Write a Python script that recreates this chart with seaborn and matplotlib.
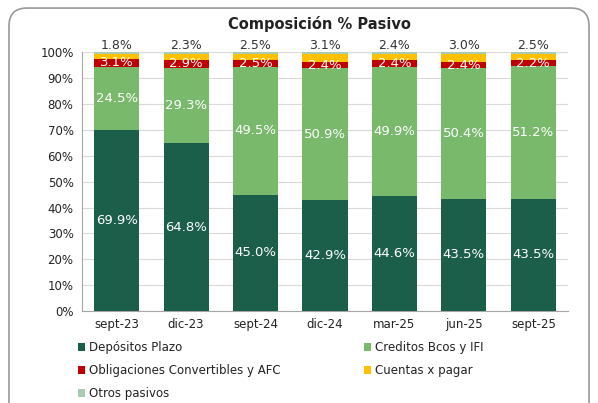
import matplotlib.pyplot as plt
import seaborn as sns
import pandas as pd
import numpy as np
from matplotlib.patches import FancyBboxPatch, Patch

periodos = ['sept-23', 'dic-23', 'sept-24', 'dic-24', 'mar-25', 'jun-25', 'sept-25']
depositos = [69.9, 64.8, 45.0, 42.9, 44.6, 43.5, 43.5]
creditos = [24.5, 29.3, 49.5, 50.9, 49.9, 50.4, 51.2]
obligaciones = [3.1, 2.9, 2.5, 2.4, 2.4, 2.4, 2.2]
cuentas = [1.8, 2.3, 2.5, 3.1, 2.4, 3.0, 2.5]
otros = [0.7, 0.7, 0.5, 0.7, 0.7, 0.7, 0.6]

series = ['Depósitos Plazo', 'Creditos Bcos y IFI', 'Obligaciones Convertibles y AFC',
          'Cuentas x pagar', 'Otros pasivos']
colors = ['#1b5e4a', '#78b96c', '#c00000', '#ffc000', '#a8cbb2']

df = pd.DataFrame({'periodo': periodos, series[0]: depositos, series[1]: creditos,
                   series[2]: obligaciones, series[3]: cuentas, series[4]: otros})
df = df.set_index('periodo')
cum = df.cumsum(axis=1)

sns.set_style('white')
plt.rcParams['font.family'] = ['DejaVu Sans']

fig = plt.figure(figsize=(5.98, 4.03), dpi=100)
ax = fig.add_axes([0.137, 0.228, 0.813, 0.642])

# stacked bars: draw cumulative heights, tallest first
for name, col in reversed(list(zip(series, colors))):
    sns.barplot(x=cum.index, y=cum[name].values, color=col, width=0.65, saturation=1,
                ax=ax, zorder=3, edgecolor='none', linewidth=0)

ax.set_ylim(0, 100)
ax.set_xlim(-0.5, len(periodos) - 0.5)
ax.set_yticks(np.arange(0, 101, 10))
ax.set_yticklabels([f'{v}%' for v in range(0, 101, 10)], fontsize=8.5, color='#222222')
ax.tick_params(axis='x', labelsize=8.5, colors='#222222', length=0, pad=5)
ax.tick_params(axis='y', length=0, pad=6)
ax.set_xlabel('')
ax.set_ylabel('')
ax.grid(axis='y', color='#d9d9d9', linewidth=0.8, zorder=0)
for s in ['top', 'right']:
    ax.spines[s].set_visible(False)
ax.spines['left'].set_color('#a6a6a6')
ax.spines['bottom'].set_color('#a6a6a6')

lab_kw = dict(ha='center', va='center', fontsize=9.5, zorder=5)
for i in range(len(periodos)):
    ax.text(i, depositos[i] / 2, f'{depositos[i]:.1f}%', color='white', **lab_kw)
    ax.text(i, depositos[i] + creditos[i] / 2, f'{creditos[i]:.1f}%', color='white', **lab_kw)
    ax.text(i, cum.iloc[i, 1] + obligaciones[i] / 2, f'{obligaciones[i]:.1f}%', color='white', **lab_kw)
    ax.text(i, 100.3, f'{cuentas[i]:.1f}%', color='#333333', ha='center', va='bottom',
            fontsize=9, zorder=5)

fig.text(0.535, 0.94, 'Composición % Pasivo', ha='center', va='center',
         fontsize=10.5, fontweight='bold', color='#222222')

# legend filled row by row like the original
order = [0, 2, 4, 1, 3]
handles = [Patch(facecolor=colors[k], edgecolor='none') for k in order]
labels = [series[k] for k in order]
leg = fig.legend(handles, labels, loc='upper left', bbox_to_anchor=(0.112, 0.18),
                 ncol=2, frameon=False, fontsize=8.5, handlelength=0.6, handleheight=0.6,
                 handletextpad=0.35, columnspacing=7.1, labelspacing=0.85)
for t in leg.get_texts():
    t.set_color('#222222')

frame = FancyBboxPatch((0.015, -0.05), 0.97, 1.03, boxstyle='round,pad=0,rounding_size=0.03',
                       transform=fig.transFigure, facecolor='none', edgecolor='#999999',
                       linewidth=1.2, mutation_aspect=598 / 403)
fig.patches.append(frame)

fig.savefig('out.png', dpi=100)
